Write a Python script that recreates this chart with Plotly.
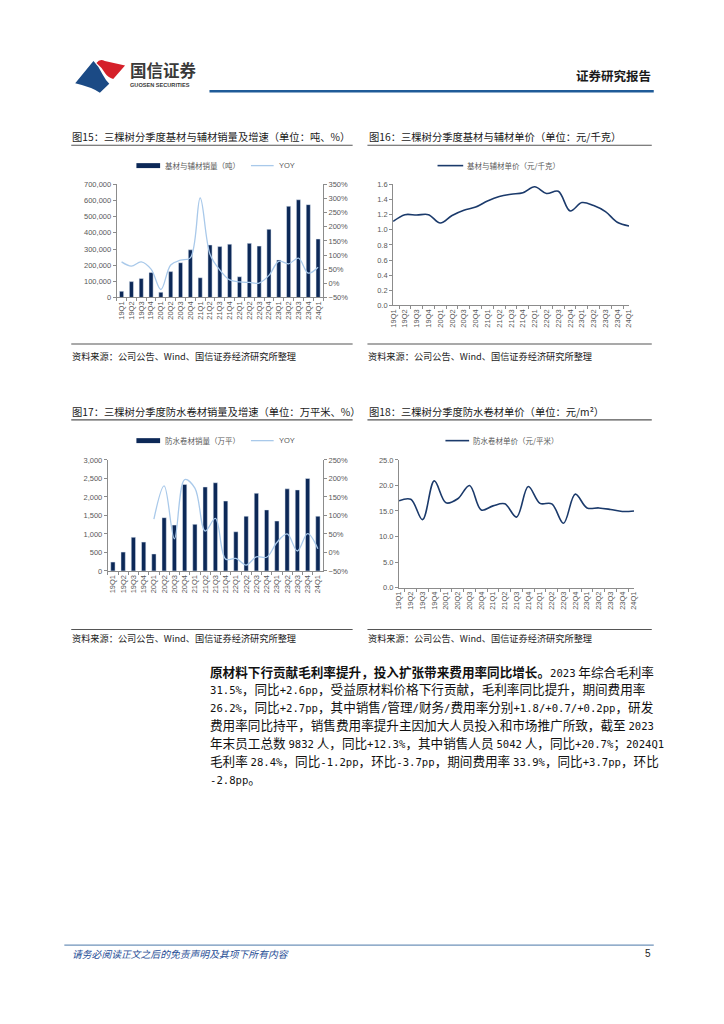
import re
import plotly.graph_objects as go

# ---------------- data ----------------
quarters = ["19Q1", "19Q2", "19Q3", "19Q4", "20Q1", "20Q2", "20Q3", "20Q4",
            "21Q1", "21Q2", "21Q3", "21Q4", "22Q1", "22Q2", "22Q3", "22Q4",
            "23Q1", "23Q2", "23Q3", "23Q4", "24Q1"]

base_volume = [38000, 98000, 118000, 155000, 32000, 160000, 215000, 295000,
               122000, 325000, 315000, 330000, 128000, 335000, 318000, 422000,
               232000, 565000, 605000, 575000, 362000]
base_yoy = [76, 61, 76, 50, -22, 65, 82, 90, 302, 103, 47, 12, 5, 3, 1, 28,
            78, 69, 89, 36, 57]

base_price = [1.11, 1.20, 1.195, 1.20, 1.09, 1.19, 1.26, 1.30, 1.38, 1.44, 1.47,
              1.49, 1.57, 1.48, 1.51, 1.25, 1.36, 1.32, 1.24, 1.10, 1.05]

roll_volume = [240, 510, 910, 780, 460, 1440, 1240, 2340, 1260, 2270, 2385,
               1890, 1060, 1480, 2100, 1650, 1350, 2220, 2190, 2500, 1480]
roll_yoy = [None, None, None, None, 90, 180, 37, 197, 174, 58, 92, -18, -16,
            -34, -12, -13, 27, 50, 4, 51, 10]

roll_price = [17.0, 17.3, 13.3, 20.9, 16.6, 17.4, 20.0, 15.2, 16.0, 16.4, 13.8,
              19.8, 16.5, 16.4, 12.6, 18.3, 15.6, 15.6, 15.3, 14.9, 15.0]

vol15_ticks = [0, 100000, 200000, 300000, 400000, 500000, 600000, 700000]
vol15_text = ["0", "100,000", "200,000", "300,000", "400,000", "500,000", "600,000", "700,000"]
vol17_ticks = [0, 500, 1000, 1500, 2000, 2500, 3000]
vol17_text = ["0", "500", "1,000", "1,500", "2,000", "2,500", "3,000"]

# ---------------- styling ----------------
# page body has an 8px margin, so the figure is 708x1008 and coordinates are offset by 8px
OFF = 8
W, H = 724 - 2 * OFF, 1024 - 2 * OFF
NAVY = "#0c2857"
LINE_NAVY = "#1b3a6b"
LIGHT = "#a9c9ea"
AXIS = "#8c8c8c"
TICKC = "#595959"
CJK = "Noto Sans CJK SC"
NUM = "Liberation Sans"


def X(px):
    return (px - OFF) / W


def Y(py):
    return 1 - (py - OFF) / H


fig = go.Figure()

fig.add_trace(go.Bar(x=quarters, y=base_volume, marker_color=NAVY, xaxis="x", yaxis="y",
                     showlegend=False))
fig.add_trace(go.Scatter(x=quarters, y=base_yoy, mode="lines", line=dict(color=LIGHT, width=1.3, shape="spline", smoothing=1.0),
                         xaxis="x", yaxis="y2", showlegend=False))
fig.add_trace(go.Scatter(x=quarters, y=base_price, mode="lines", line=dict(color=LINE_NAVY, width=1.6, shape="spline", smoothing=1.0),
                         xaxis="x2", yaxis="y3", showlegend=False))
fig.add_trace(go.Bar(x=quarters, y=roll_volume, marker_color=NAVY, xaxis="x3", yaxis="y4",
                     showlegend=False))
fig.add_trace(go.Scatter(x=quarters, y=roll_yoy, mode="lines", line=dict(color=LIGHT, width=1.3, shape="spline", smoothing=1.0),
                         xaxis="x3", yaxis="y5", showlegend=False, connectgaps=False))
fig.add_trace(go.Scatter(x=quarters, y=roll_price, mode="lines", line=dict(color=LINE_NAVY, width=1.6, shape="spline", smoothing=1.0),
                         xaxis="x4", yaxis="y6", showlegend=False))

xcommon = dict(type="category", tickangle=-90, tickfont=dict(family=NUM, size=7.5, color=TICKC),
               showline=True, linecolor=AXIS, linewidth=1, ticks="outside", ticklen=3,
               tickcolor=AXIS, tickson="boundaries", showgrid=False, zeroline=False, fixedrange=True)
ycommon = dict(showline=True, linecolor=AXIS, linewidth=1, ticks="outside", ticklen=3,
               tickcolor=AXIS, tickfont=dict(family=NUM, size=7.5, color=TICKC),
               showgrid=False, zeroline=False, fixedrange=True)

fig.update_layout(
    width=W, height=H, margin=dict(l=0, r=0, t=0, b=0), autosize=False,
    paper_bgcolor="white", plot_bgcolor="white", bargap=0.58, showlegend=False,
    xaxis=dict(domain=[X(113), X(322)], anchor="y", **xcommon),
    yaxis=dict(domain=[Y(296), Y(182)], anchor="x", range=[0, 700000], tickvals=vol15_ticks, ticktext=vol15_text, **ycommon),
    yaxis2=dict(overlaying="y", side="right", anchor="x", range=[-50, 350], dtick=50, ticksuffix="%", **ycommon),
    xaxis2=dict(domain=[X(393), X(632)], anchor="y3", **xcommon),
    yaxis3=dict(domain=[Y(304), Y(182)], anchor="x2", range=[0, 1.6], dtick=0.2, tickformat=".1f", **ycommon),
    xaxis3=dict(domain=[X(104), X(322)], anchor="y4", **xcommon),
    yaxis4=dict(domain=[Y(572), Y(460)], anchor="x3", range=[0, 3000], tickvals=vol17_ticks, ticktext=vol17_text, **ycommon),
    yaxis5=dict(overlaying="y4", side="right", anchor="x3", range=[-50, 250], dtick=50, ticksuffix="%", **ycommon),
    xaxis4=dict(domain=[X(399), X(637)], anchor="y6", **xcommon),
    yaxis6=dict(domain=[Y(588.7), Y(460)], anchor="x4", range=[0, 25], dtick=5, tickformat=".1f", **ycommon),
)

shapes = []
annots = []


def hline(x0, x1, y, color, width):
    shapes.append(dict(type="line", xref="paper", yref="paper", x0=X(x0), x1=X(x1), y0=Y(y), y1=Y(y),
                       line=dict(color=color, width=width)))


def text(x, y, s, size, color="#1a1a1a", family=CJK, xanchor="left", italic=False):
    annots.append(dict(xref="paper", yref="paper", x=X(x), y=Y(y), text=s, showarrow=False,
                       xanchor=xanchor, yanchor="middle",
                       font=dict(family=family, size=size, color=color,
                                 style="italic" if italic else "normal")))


def path_from(points):
    d = ""
    for cmd, pts in points:
        d += cmd + " " + " ".join(f"{X(px):.5f},{Y(py):.5f}" for px, py in pts) + " "
    return d + "Z"


def half_width(s, size):
    # render ASCII runs in a monospace font so they take half a CJK em, like the reference
    return re.sub(r"([!-~]+)",
                  lambda m: f"<span style=\"font-family:'DejaVu Sans Mono';font-size:{size}px\">{m.group(1)}</span>",
                  s)


# ---------------- header ----------------
shapes.append(dict(type="path", xref="paper", yref="paper", fillcolor="#d5202a", line=dict(width=0),
                   path=path_from([("M", [(92.5, 59.5)]), ("Q", [(96, 54.5), (101, 57.5)]),
                                   ("L", [(121.5, 62)]), ("L", [(109.5, 75.5)]),
                                   ("Q", [(104, 74), (101.5, 70)]), ("Q", [(98, 64), (92.5, 59.5)])])))
shapes.append(dict(type="path", xref="paper", yref="paper", fillcolor="#1b4a85", line=dict(width=0),
                   path=path_from([("M", [(71, 80)]), ("L", [(89.5, 57.5)]),
                                   ("Q", [(95, 63), (98.5, 70.5)]), ("Q", [(102, 77), (105.5, 80.5)]),
                                   ("L", [(96, 89.5)]), ("Q", [(88, 84), (71, 80)])])))
text(124, 66.5, "<b>国信证券</b>", 16.5, color="#3a3a3a")
text(124.5, 81.5, "<b>GUOSEN SECURITIES</b>", 5.6, color="#3a3a3a", family=NUM)
text(656, 72.5, "<b>证券研究报告</b>", 12.5, color="#1a1a1a", xanchor="right")
hline(207, 657, 88, "#1f5b98", 2.6)

# ---------------- chart titles ----------------
text(66, 133.5, "图15：三棵树分季度基材与辅材销量及增速（单位：吨、%）", 10.3)
hline(67, 352, 142.5, "#555555", 1.1)
text(367, 133.5, "图16：三棵树分季度基材与辅材单价（单位：元/千克）", 10.3)
hline(367, 655, 142.5, "#555555", 1.1)
text(66, 411, "图17：三棵树分季度防水卷材销量及增速（单位：万平米、%）", 10.3)
hline(67, 352, 419.5, "#555555", 1.1)
text(367, 411, "图18：三棵树分季度防水卷材单价（单位：元/m²）", 10.3)
hline(367, 655, 419.5, "#555555", 1.1)

# ---------------- legends ----------------
LEGC = "#595959"
shapes.append(dict(type="rect", xref="paper", yref="paper", x0=X(133), x1=X(157), y0=Y(165.5), y1=Y(160.5),
                   fillcolor=NAVY, line=dict(width=0)))
text(160, 163, "基材与辅材销量（吨）", 7.5, color=LEGC)
hline(249, 272, 163, LIGHT, 1.3)
text(275, 163, "YOY", 7.5, color=LEGC, family=NUM)

hline(438, 464, 163, LINE_NAVY, 1.6)
text(466, 163, "基材与辅材单价（元/千克）", 7.5, color=LEGC)

shapes.append(dict(type="rect", xref="paper", yref="paper", x0=X(133), x1=X(157), y0=Y(443), y1=Y(438),
                   fillcolor=NAVY, line=dict(width=0)))
text(160, 440.5, "防水卷材销量（万平）", 7.5, color=LEGC)
hline(249, 272, 440.5, LIGHT, 1.3)
text(275, 440.5, "YOY", 7.5, color=LEGC, family=NUM)

hline(446, 470, 440.5, LINE_NAVY, 1.6)
text(472, 440.5, "防水卷材单价（元/平米）", 7.5, color=LEGC)

# ---------------- sources ----------------
SRC = "资料来源：公司公告、Wind、国信证券经济研究所整理"
hline(67, 352, 343, "#555555", 1.1)
hline(367, 655, 343, "#555555", 1.1)
text(66, 355, SRC, 9.2)
text(366, 355, SRC, 9.2)
hline(67, 352, 631, "#555555", 1.1)
hline(367, 655, 631, "#555555", 1.1)
text(66, 640, SRC, 9.2)
text(366, 640, SRC, 9.2)

# ---------------- body text ----------------
body = [
    ("原材料下行贡献毛利率提升，投入扩张带来费用率同比增长。", "2023 年综合毛利率"),
    ("", "31.5%，同比+2.6pp，受益原材料价格下行贡献，毛利率同比提升，期间费用率"),
    ("", "26.2%，同比+2.7pp，其中销售/管理/财务/费用率分别+1.8/+0.7/+0.2pp，研发"),
    ("", "费用率同比持平，销售费用率提升主因加大人员投入和市场推广所致，截至 2023"),
    ("", "年末员工总数 9832 人，同比+12.3%，其中销售人员 5042 人，同比+20.7%；2024Q1"),
    ("", "毛利率 28.4%，同比-1.2pp，环比-3.7pp，期间费用率 33.9%，同比+3.7pp，环比"),
    ("", "-2.8pp。"),
]
for i, (bold, rest) in enumerate(body):
    s = (f"<b>{bold}</b>" if bold else "") + half_width(rest, 10.6)
    text(206, 673 + 18 * i, s, 12.6, color="#111111")

# ---------------- footer ----------------
hline(60, 657, 949.5, "#4a78a8", 1.0)
text(66, 958, "请务必阅读正文之后的免责声明及其项下所有内容", 9.8, color="#1f4e96", italic=True)
text(656, 958, "5", 10, color="#222222", family=NUM, xanchor="right")

fig.update_layout(shapes=shapes, annotations=annots)
fig.write_html("out.html")
